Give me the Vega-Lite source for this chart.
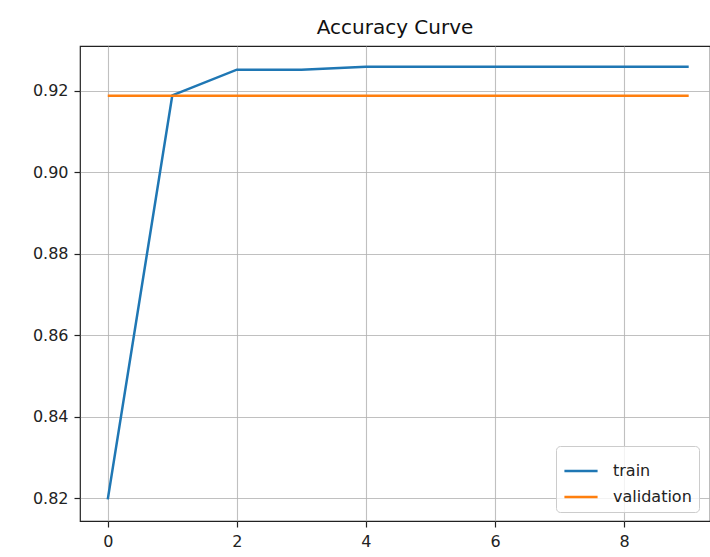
{
  "$schema": "https://vega.github.io/schema/vega-lite/v6.json",
  "width": 630,
  "height": 475,
  "autosize": {"type": "none"},
  "padding": {"left": 80, "top": 46, "right": 0, "bottom": 36},
  "background": "white",
  "title": {"text": "Accuracy Curve", "font": "DejaVu Sans", "fontSize": 20, "fontWeight": "normal", "color": "#111", "offset": 8, "anchor": "middle"},
  "data": {
    "values": [
      {"epoch": 0, "acc": 0.8197, "series": "train"},
      {"epoch": 1, "acc": 0.9189, "series": "train"},
      {"epoch": 2, "acc": 0.9252, "series": "train"},
      {"epoch": 3, "acc": 0.9252, "series": "train"},
      {"epoch": 4, "acc": 0.9259, "series": "train"},
      {"epoch": 5, "acc": 0.9259, "series": "train"},
      {"epoch": 6, "acc": 0.9259, "series": "train"},
      {"epoch": 7, "acc": 0.9259, "series": "train"},
      {"epoch": 8, "acc": 0.9259, "series": "train"},
      {"epoch": 9, "acc": 0.9259, "series": "train"},
      {"epoch": 0, "acc": 0.9188, "series": "validation"},
      {"epoch": 1, "acc": 0.9188, "series": "validation"},
      {"epoch": 2, "acc": 0.9188, "series": "validation"},
      {"epoch": 3, "acc": 0.9188, "series": "validation"},
      {"epoch": 4, "acc": 0.9188, "series": "validation"},
      {"epoch": 5, "acc": 0.9188, "series": "validation"},
      {"epoch": 6, "acc": 0.9188, "series": "validation"},
      {"epoch": 7, "acc": 0.9188, "series": "validation"},
      {"epoch": 8, "acc": 0.9188, "series": "validation"},
      {"epoch": 9, "acc": 0.9188, "series": "validation"}
    ]
  },
  "mark": {"type": "line", "strokeWidth": 2.5, "clip": true},
  "encoding": {
    "x": {
      "field": "epoch", "type": "quantitative",
      "scale": {"domain": [-0.43, 9.33], "nice": false, "zero": false},
      "axis": {"title": null, "values": [0, 2, 4, 6, 8], "format": "d"}
    },
    "y": {
      "field": "acc", "type": "quantitative",
      "scale": {"domain": [0.8144, 0.931], "nice": false, "zero": false},
      "axis": {"title": null, "values": [0.82, 0.84, 0.86, 0.88, 0.90, 0.92], "format": ".2f"}
    },
    "color": {
      "field": "series", "type": "nominal",
      "scale": {"domain": ["train", "validation"], "range": ["#1f77b4", "#ff7f0e"]},
      "legend": {
        "title": null,
        "orient": "none",
        "legendX": 476,
        "legendY": 400,
        "symbolType": "stroke",
        "symbolSize": 1100,
        "symbolStrokeWidth": 2.5,
        "labelFont": "DejaVu Sans",
        "labelFontSize": 16,
        "labelColor": "#222",
        "labelOffset": 14,
        "rowPadding": -6,
        "padding": 7,
        "strokeColor": "#cccccc",
        "fillColor": "rgba(255,255,255,0.8)",
        "cornerRadius": 4
      }
    }
  },
  "config": {
    "view": {"stroke": "#222", "strokeWidth": 1.2},
    "axis": {
      "domain": false,
      "grid": true,
      "gridColor": "#b0b0b0",
      "gridWidth": 1.1,
      "gridOpacity": 0.8,
      "tickColor": "#222",
      "tickSize": 6,
      "tickWidth": 1.2,
      "labelFont": "DejaVu Sans",
      "labelFontSize": 16,
      "labelColor": "#222",
      "labelPadding": 6
    }
  }
}
